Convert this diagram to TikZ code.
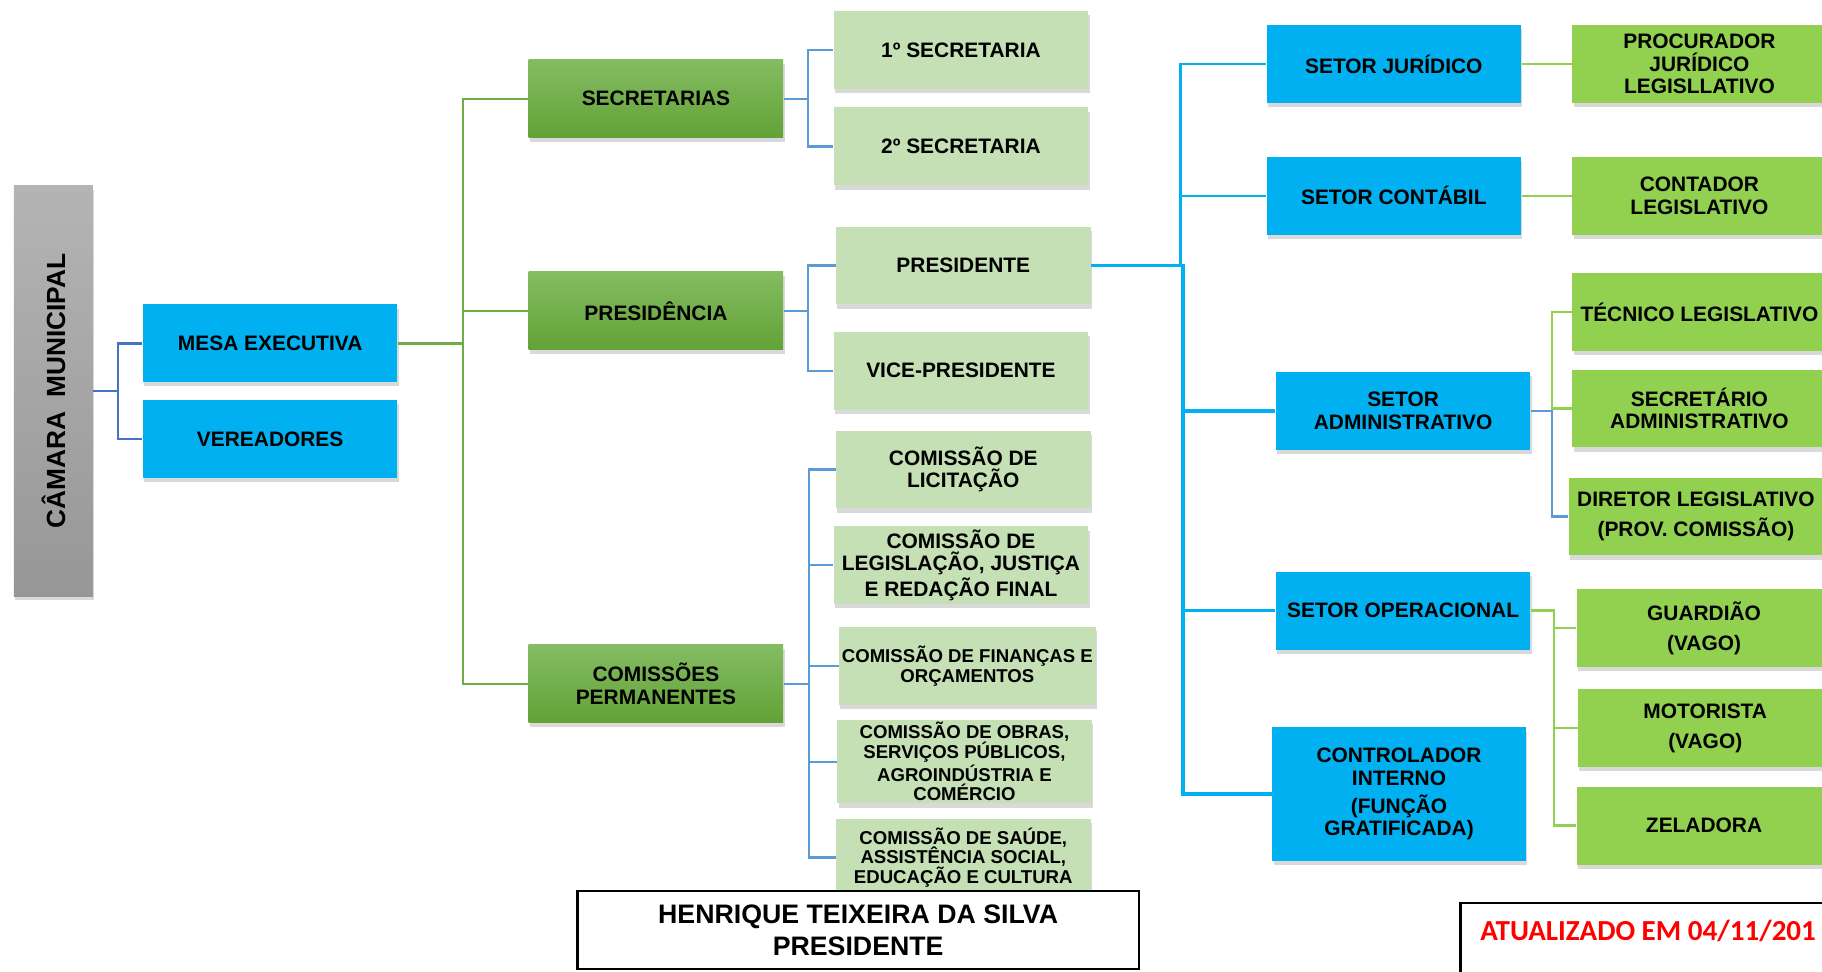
\documentclass[tikz,border=0pt]{standalone}
\usepackage{fontspec}
\setmainfont{Liberation Sans}
\newfontfamily\calib{Carlito}
\usetikzlibrary{shadows}
\definecolor{camaraTop}{HTML}{B4B4B4}
\definecolor{camaraBot}{HTML}{979797}
\definecolor{setorCyan}{HTML}{00B0F0}
\definecolor{greenTop}{HTML}{84BC62}
\definecolor{greenBot}{HTML}{62A236}
\definecolor{paleGreen}{HTML}{C5E0B4}
\definecolor{limeGreen}{HTML}{92D050}
\definecolor{navyLink}{HTML}{4472C4}
\definecolor{oliveLink}{HTML}{70AD47}
\definecolor{skyLink}{HTML}{5B9BD5}
\begin{document}
\begin{tikzpicture}[x=0.5pt,y=-0.5pt,font=\bfseries\fontsize{9}{9.6}\selectfont]
\tikzstyle{org box}=[rectangle,align=center,inner sep=1pt,minimum width=109.5pt,minimum height=33.5pt,drop shadow={shadow xshift=0.6pt,shadow yshift=-1.8pt,opacity=0.3}]
\tikzstyle{small text}=[font=\bfseries\fontsize{8}{8.5}\selectfont]
\tikzset{
	gray node/.style={org box,top color=camaraTop,bottom color=camaraBot,minimum width=34pt,minimum height=176.5pt,font=\bfseries\fontsize{11.3}{12}\selectfont},
	cyan node/.style={org box,fill=setorCyan},
	dark node/.style={org box,top color=greenTop,bottom color=greenBot},
	pale node/.style={org box,fill=paleGreen},
	lime node/.style={org box,fill=limeGreen},
	frame node/.style={rectangle,draw=black,line width=1pt,fill=white},
	navy line/.style={draw=navyLink,line width=1pt},
	olive line/.style={draw=oliveLink,line width=1pt},
	sky line/.style={draw=skyLink,line width=1pt},
	cyan line/.style={draw=setorCyan,line width=0.9pt},
	lime line/.style={draw=limeGreen,line width=1pt}
}
\useasboundingbox (0,0) rectangle (1568,836);
\clip (0,0) rectangle (1568,836);

\node[gray node] (camara) at (46,336.5) {\rotatebox{90}{CÂMARA\ \ MUNICIPAL}};
\node[cyan node] (mesa) at (232.5,295.5) {MESA EXECUTIVA};
\node[cyan node] (verea) at (232.5,378) {VEREADORES};

\node[dark node] (secr) at (564.5,85) {SECRETARIAS};
\node[dark node] (presi) at (564.5,267.5) {PRESIDÊNCIA};
\node[dark node] (comis) at (564.5,588.5) {COMISSÕES\\PERMANENTES};

\node[pale node] (sec1) at (827,43) {1º SECRETARIA};
\node[pale node] (sec2) at (827,126) {2º SECRETARIA};
\node[pale node] (presid) at (829,228.5) {PRESIDENTE};
\node[pale node] (vice) at (827,319) {VICE-PRESIDENTE};
\node[pale node] (licit) at (829,404) {COMISSÃO DE\\LICITAÇÃO};
\node[pale node] (legis) at (827,486.5) {COMISSÃO DE\\LEGISLAÇÃO, JUSTIÇA\\E REDAÇÃO FINAL};
\node[pale node,small text,minimum width=110.5pt] (financ) at (832.5,573) {COMISSÃO DE FINANÇAS E\\ORÇAMENTOS};
\node[pale node,small text] (obras) at (830,655.5) {COMISSÃO DE OBRAS,\\SERVIÇOS PÚBLICOS,\\AGROINDÚSTRIA E\\COMÉRCIO};
\node[pale node,small text,minimum height=33pt] (saude) at (829,738) {COMISSÃO DE SAÚDE,\\ASSISTÊNCIA SOCIAL,\\EDUCAÇÃO E CULTURA};

\node[cyan node] (jur) at (1199.5,55) {SETOR JURÍDICO};
\node[cyan node] (cont) at (1199.5,168.5) {SETOR CONTÁBIL};
\node[cyan node] (adm) at (1207.5,353.5) {SETOR\\ADMINISTRATIVO};
\node[cyan node] (oper) at (1207.5,525.5) {SETOR OPERACIONAL};
\node[cyan node,minimum width=109pt,minimum height=57.5pt] (ctrl) at (1204,683.5) {CONTROLADOR\\INTERNO\\[2.5pt](FUNÇÃO\\GRATIFICADA)};

\node[lime node] (procur) at (1462.5,55) {PROCURADOR\\JURÍDICO\\LEGISLLATIVO};
\node[lime node] (contad) at (1462.5,168.5) {CONTADOR\\LEGISLATIVO};
\node[lime node] (tecn) at (1462.5,268.5) {TÉCNICO LEGISLATIVO};
\node[lime node] (secadm) at (1462.5,351.5) {SECRETÁRIO\\ADMINISTRATIVO};
\node[lime node] (diret) at (1459.5,444.5) {DIRETOR LEGISLATIVO\\[3.4pt](PROV. COMISSÃO)};
\node[lime node] (guard) at (1466.5,540.5) {GUARDIÃO\\[3.4pt](VAGO)};
\node[lime node] (motor) at (1467.5,626.5) {MOTORISTA\\[3.4pt](VAGO)};
\node[lime node] (zelad) at (1466.5,710.5) {ZELADORA};

\foreach \k in {mesa,verea}
	\draw[navy line] (camara.east) -- ++(21,0) |- (\k.west);
\foreach \k in {secr,presi,comis}
	\draw[olive line] (mesa.east) -- ++(56,0) |- (\k.west);
\foreach \k in {sec1,sec2}
	\draw[sky line] (secr.east) -- ++(21,0) |- (\k.west);
\foreach \k in {presid,vice}
	\draw[sky line] (presi.east) -- ++(21,0) |- (\k.west);
\foreach \k in {licit,legis,financ,obras,saude}
	\draw[sky line] (comis.east) -- ++(22,0) |- (\k.west);
\foreach \k in {jur,cont}
	\draw[cyan line] (presid.east) -- ++(77,0) |- (\k.west);
\foreach \k in {adm,oper,ctrl}
	\draw[cyan line,line width=1.5pt] (presid.east) -- ++(79,0) |- (\k.west);
\draw[lime line] (jur) -- (procur);
\draw[lime line] (cont) -- (contad);
\foreach \k in {tecn,secadm}
	\draw[lime line] (adm.east) -- ++(18,0) |- (\k.west);
\draw[sky line] (adm.east) -- ++(18,0) |- (diret.west);
\foreach \k in {guard,motor,zelad}
	\draw[lime line] (oper.east) -- ++(20,0) |- (\k.west);

\node[frame node,minimum width=241.5pt,minimum height=33.5pt,align=center,font=\bfseries\fontsize{11.5}{13.5}\selectfont] (chefe) at (738.5,800.5) {HENRIQUE TEIXEIRA DA SILVA\\PRESIDENTE};
\node[frame node,anchor=north west,text height=12pt,text depth=40pt,inner ysep=4pt,inner xsep=8.5pt,text=red,font=\calib\bfseries\fontsize{12.5}{14}\selectfont] (atual) at (1256,776) {ATUALIZADO EM 04/11/201};
\end{tikzpicture}
\end{document}
